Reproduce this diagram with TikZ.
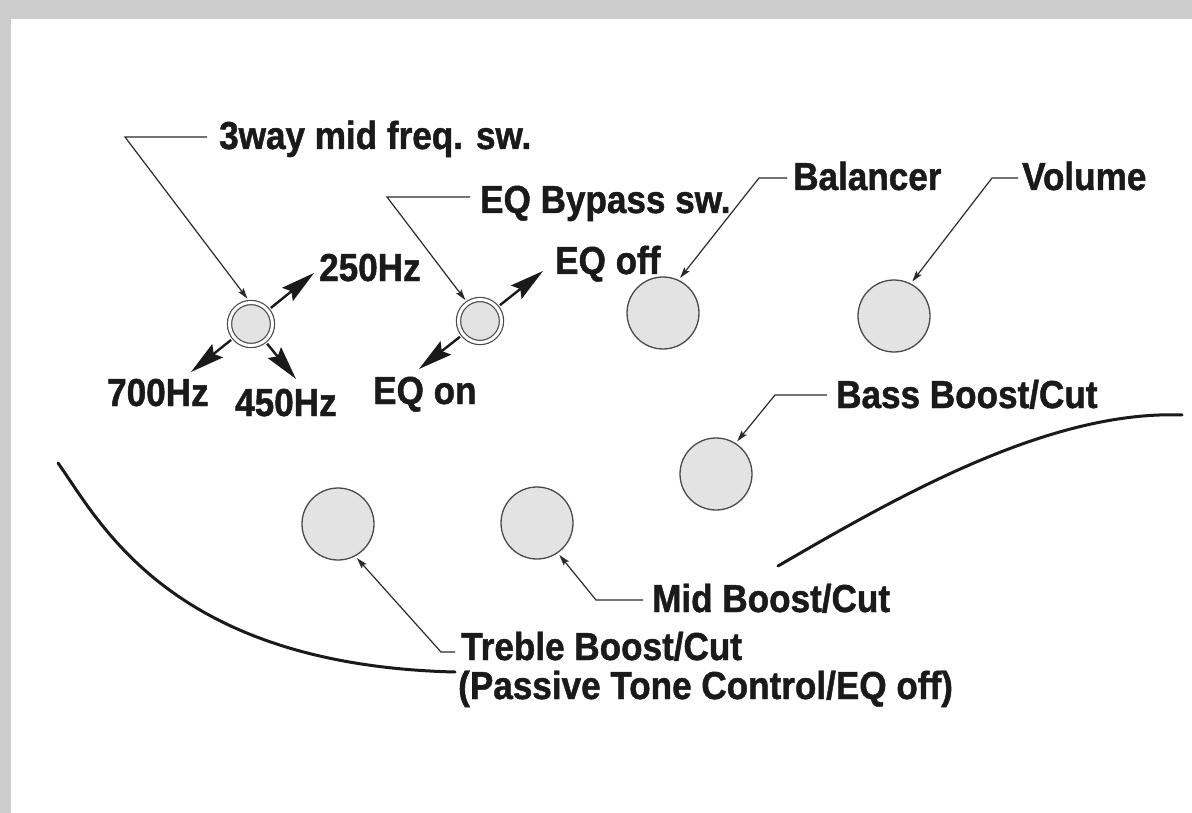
\documentclass[tikz,border=0pt]{standalone}
\usepackage{fontspec}
\setmainfont{Liberation Sans}[FakeStretch=0.9, BoldFeatures={FakeBold=1.2}]
\usetikzlibrary{arrows.meta}
\definecolor{bord}{HTML}{CCCCCC}
\definecolor{txt}{HTML}{1A1A1A}
\definecolor{lead}{HTML}{2B2B2B}
\definecolor{kfill}{HTML}{E3E3E3}
\definecolor{kline}{HTML}{4A4A4A}
\begin{document}
\begin{tikzpicture}[x=1pt,y=-1pt,
  lbl/.style={anchor=base west, inner sep=0pt, text=txt, font=\fontsize{39}{42}\selectfont\bfseries},
  knob/.style={circle, draw=kline, line width=1.3pt, fill=kfill, minimum size=72pt, inner sep=0pt, outer sep=3pt},
  swnode/.style={circle, draw=kline, line width=1.2pt, double=white, double distance=3pt, fill=kfill, minimum size=43pt, inner sep=0pt, outer sep=4pt},
  leader/.style={draw=lead, line width=1.2pt, -{Stealth[length=11pt, width=6.5pt, inset=2pt]}},
  swarrow/.style={draw=txt, line width=2.4pt, -{Stealth[length=34pt, width=17pt, inset=5pt]}},
  body/.style={draw=txt, line width=3pt, line cap=round}]
\useasboundingbox (0,0) rectangle (1192,813);
\fill[bord] (0,0) rectangle (1192,813);
\fill[white] (11,19) rectangle (1192,813);

% switches
\node[swnode] (s3) at (251,324) {};
\node[swnode] (eqsw) at (480,321) {};
% knobs
\node[knob] (bal) at (663,313) {};
\node[knob] (vol) at (894,316) {};
\node[knob] (bass) at (716,474) {};
\node[knob] (treb) at (338,524) {};
\node[knob] (mid) at (537,523) {};

% labels
\node[lbl] (t3way) at (219,149) {3way mid freq. sw.};
\node[lbl] (t250) at (319,281) {250Hz};
\node[lbl] (t700) at (107,406) {700Hz};
\node[lbl] (t450) at (235,416) {450Hz};
\node[lbl] (tbyp) at (480,213) {EQ Bypass sw.};
\node[lbl] (toff) at (555,274) {EQ off};
\node[lbl] (ton) at (373,404) {EQ on};
\node[lbl] (tbal) at (793,190) {Balancer};
\node[lbl] (tvol) at (1022,190) {Volume};
\node[lbl] (tbass) at (836,408) {Bass Boost/Cut};
\node[lbl] (tmid) at (652,612) {Mid Boost/Cut};
\node[lbl] (ttreb) at (461,660) {Treble Boost/Cut};
\node[lbl] (tpass) at (458,699) {(Passive Tone Control/EQ off)};

% switch position arrows
\coordinate (c250) at (314,273);
\coordinate (c700) at (191,372);
\coordinate (c450) at (296,379);
\coordinate (coff) at (543,271);
\coordinate (con) at (419,369);
\draw[swarrow] (s3) -- (c250);
\draw[swarrow] (s3) -- (c700);
\draw[swarrow] (s3) -- (c450);
\draw[swarrow] (eqsw) -- (coff);
\draw[swarrow] (eqsw) -- (con);

% leaders
\coordinate (a1) at (207,137); \coordinate (a2) at (125,137);
\draw[leader] (a1) -- (a2) -- (s3.98);
\coordinate (b1) at (470,197); \coordinate (b2) at (387,197);
\draw[leader] (b1) -- (b2) -- (eqsw.125);
\coordinate (d1) at (787,178); \coordinate (d2) at (759,178);
\draw[leader] (d1) -- (d2) -- (bal.64);
\coordinate (e1) at (1018,178); \coordinate (e2) at (992,178);
\draw[leader] (e1) -- (e2) -- (vol.62);
\coordinate (f1) at (827,395); \coordinate (f2) at (775,395);
\draw[leader] (f1) -- (f2) -- (bass.57);
\coordinate (g1) at (643,600); \coordinate (g2) at (596,600);
\draw[leader] (g1) -- (g2) -- (mid.-55);
\coordinate (h1) at (455,652); \coordinate (h2) at (441,652);
\draw[leader] (h1) -- (h2) -- (treb.-61);

% body outline
\coordinate (lb0) at (58,463); \coordinate (lb1) at (455,672);
\draw[body] (lb0) .. controls (100,522) and (170,665) .. (lb1);
\coordinate (rb0) at (778,566); \coordinate (rb1) at (1182,415);
\draw[body] (rb0) .. controls (900,495) and (1050,410) .. (rb1);
\end{tikzpicture}
\end{document}
